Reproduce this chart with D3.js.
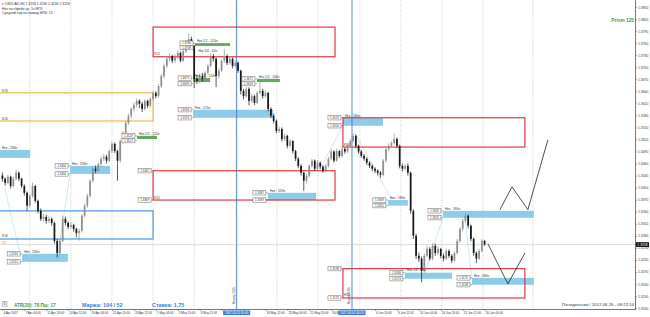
<!DOCTYPE html>
<html>
<head>
<meta charset="utf-8">
<script src="https://cdn.jsdelivr.net/npm/d3@7"></script>
<style>
  body { margin: 0; background: #fff; }
  svg { display: block; font-family: "Liberation Sans", Arial, sans-serif; }
</style>
</head>
<body>
<svg id="chart" width="650" height="317"></svg>
<script>
// USDCAD, drawn as 8-hour bars. All prices are pips above 1.3000
const opens = [430,422,412,427,404,422,437,422,404,387, 355,379,404,367,342,322,327,317,322,312,
  267,237,267,322,312,302,307,297,287,292, 330,355,379,417,447,442,459,472,477,467,
  491,509,491,467,516,536,561,579,596,606, 616,609,596,616,604,621,636,628,653,678,
  703,721,728,716,726,736,716,740,760,770, 753,671,666,678,671,686,703,728,721,678,
  691,716,728,711,721,703,711,691,641,628, 646,616,628,611,636,641,628,636,596,579,
  566,541,546,521,529,504,516,491,472,454, 437,417,429,454,467,447,462,452,442,454,
  472,490,467,491,479,496,490,504,516,529, 504,490,479,472,462,454,447,442,437,432,
  467,496,504,511,521,504,454,447,454,437, 342,280,230,223,193,230,247,223,255,237,
  247,230,223,242,230,218,237,267,297,317, 330,305,272,237,223,242,267];
const highs = [438,426,432,430,428,444,440,425,408,390, 384,412,407,370,348,335,332,328,326,315,
  272,270,330,328,316,314,310,300,298,334, 360,385,421,452,455,463,478,484,482,495,
  515,513,494,520,541,566,585,600,612,622, 620,613,620,619,626,641,640,658,683,708,
  727,735,731,732,742,739,745,767,783,776, 756,680,684,686,691,708,734,733,724,697,
  720,746,732,727,724,717,714,694,646,650, 650,634,632,640,666,646,642,638,600,584,
  570,552,550,534,532,521,518,494,476,458, 440,434,458,472,470,468,465,456,459,477,
  495,493,497,494,502,500,509,521,536,532, 507,494,484,476,466,458,451,446,441,471,
  500,510,516,534,525,507,460,459,461,440, 346,285,238,228,236,255,252,262,260,254,
  250,236,248,246,234,242,272,302,322,336, 333,308,276,241,247,272,270];
const lows = [415,405,408,398,400,418,416,399,380,342, 350,375,362,336,317,315,310,312,305,260,
  226,233,264,306,296,298,290,276,268,288, 326,350,375,412,436,438,454,466,460,463,
  486,486,417,462,510,532,556,572,590,600, 598,588,592,598,600,617,622,624,648,672,
  698,715,710,711,720,712,713,735,755,745, 648,658,660,664,667,682,700,714,650,672,
  688,711,705,706,697,699,686,632,620,624, 605,610,606,608,632,622,624,590,573,560,
  535,536,515,516,498,500,485,466,448,430, 392,410,425,450,442,444,446,437,438,450,
  468,462,464,474,475,484,486,500,512,498, 484,474,467,456,449,441,436,430,424,428,
  462,490,500,506,498,448,440,442,430,335, 272,222,215,164,188,226,218,219,230,232,
  224,216,219,225,212,214,233,262,292,312, 298,266,230,212,219,238,255];
const closes = [422,412,427,404,422,437,422,404,387,355, 379,404,367,342,322,327,317,322,312,267,
  237,267,322,312,302,307,297,287,292,330, 355,379,417,447,442,459,472,477,467,491,
  509,491,467,516,536,561,579,596,606,616, 609,596,616,604,621,636,628,653,678,703,
  721,728,716,726,736,716,740,760,770,753, 671,666,678,671,686,703,728,721,678,691,
  716,728,711,721,703,711,691,641,628,646, 616,628,611,636,641,628,636,596,579,566,
  541,546,521,529,504,516,491,472,454,437, 417,429,454,467,447,462,452,442,454,472,
  490,467,491,479,496,490,504,516,529,504, 490,479,472,462,454,447,442,437,432,467,
  496,504,511,521,504,454,447,454,437,342, 280,230,223,193,230,247,223,255,237,247,
  230,223,242,230,218,237,267,297,317,330, 305,272,237,223,242,267,258];

const timeLabels = ["4 Apr 2017","7 Apr 04:00","11 Apr 20:00","14 Apr 12:00","19 Apr 04:00",
  "21 Apr 20:00","26 Apr 12:00","1 May 04:00","3 May 20:00","8 May 12:00","11 May 04:00",
  "15 May 20:00","18 May 12:00","23 May 04:00","25 May 20:00","30 May 12:00","2 Jun 04:00",
  "6 Jun 20:00","9 Jun 12:00","14 Jun 04:00","16 Jun 20:00","21 Jun 12:00","26 Jun 04:00"];
const labelBars = [0,8,16,24,32,40,48,56,64,72,80,88,96,104,112,120,128,136,144,152,160,168,176];
const gridBars = [10,25,40,55,70,85.3,100.2,115.2,130.5,145.5,160.4,175.4,193.6];
const priceTicks = [850,820,790,760,730,700,670,640,610,580,550,520,490,460,430,400,370,340,310,280,250,220,190,160,130,100];
const bidPips = 258;

// [startBar, endBar, topPips, bottomPips, label, withPriceTags]
const redZones = [
  [55, 121.4, 800, 726, "K15", false],
  [55, 121.4, 442, 369, "K15", true],
  [124.3, 190.7, 574, 501, "K15", false],
  [124.3, 190.7, 198, 125, "H18", true]
];
const orangeZone = [-5, 55, 636, 566, "K16"];
const blueFrame = [-5, 55, 342, 272, "K16"];
const blueBands = [
  [-5, 10.1, 494, 474, "Нкз - 236п.", false],
  [24.7, 39.3, 454, 434, "Нкз - 236п.", true],
  [7.2, 23.9, 235, 215, "Нкз - 235п.", true],
  [69.6, 98.8, 594, 574, "Нкз - 215п.", true],
  [96.9, 114.5, 387, 369, "Нкз - 209п.", true],
  [140.7, 148, 369, 355, "Нкз - 180п.", true],
  [124.3, 138.9, 574, 554, "Нкз - 180п.", true],
  [160.8, 194, 342, 325, "Нкз - 180п.", true],
  [171.4, 194, 175, 158, "Нкз - 180п.", true],
  [146.9, 164.1, 188, 173, "Нкз 1/4 - 90п.", true]
];
const greenBands = [
  [70.3, 83.1, 760, 753, "Нкз 1/2 - 124п."],
  [69.6, 75.8, 673, 663, "Нкз 1/2 - 124п."],
  [92.9, 101.3, 671, 663, "Нкз 1/2 - 106п."],
  [49.1, 56.4, 529, 521, "Нкз 1/2 - 122п."]
];
const notes = [[70.8, 737, "Нкз 1/4 - 62п."]];
const guideLines = [
  [[0.9, 399], [6.4, 235]],
  [[24.7, 434], [20.3, 233]],
  [[115.9, 447], [124.3, 554]],
  [[128.7, 536], [142.2, 369]],
  [[160.8, 325], [154.2, 188]],
  [[171.4, 173], [168.8, 325]]
];
const forecastUp = [[181.6, 345], [186, 402], [191.8, 345], [199.1, 519]];
const forecastDown = [[177.2, 260], [184.5, 160], [190.7, 237]];
const markerBars = [85.5, 127.6];
const markerTimes = ["2017.05.15 00:00", "2017.06.02 00:00"];
const markerNames = ["Маркер 1505", "Маркер 0206"];

const plotRight = 635, plotBottom = 309;
const svg = d3.select("#chart");
const x = d3.scaleLinear().domain([0, 176]).range([2.4, 484.6]);
const y = d3.scaleLinear().domain([100, 850]).range([308, 7]);
const fmt = p => (1.3 + p / 10000).toFixed(4);

svg.append("rect").attr("width", 650).attr("height", 317).attr("fill", "#fff");
svg.append("clipPath").attr("id", "clip").append("rect")
  .attr("width", plotRight).attr("height", plotBottom);
const g = svg.append("g").attr("clip-path", "url(#clip)");

// grid
g.append("g").selectAll("line").data(gridBars).join("line")
  .attr("x1", d => x(d)).attr("x2", d => x(d)).attr("y1", 0).attr("y2", plotBottom)
  .attr("stroke", "#a8a8a8").attr("stroke-width", 0.6).attr("stroke-dasharray", "1,1.5");

// filled bands
const bands = g.append("g");
bands.selectAll("rect.b").data(blueBands).join("rect").attr("class", "b")
  .attr("x", d => x(d[0])).attr("width", d => x(d[1]) - x(d[0]))
  .attr("y", d => y(d[2])).attr("height", d => y(d[3]) - y(d[2]))
  .attr("fill", "#8ccbea");
bands.selectAll("rect.gr").data(greenBands).join("rect").attr("class", "gr")
  .attr("x", d => x(d[0])).attr("width", d => x(d[1]) - x(d[0]))
  .attr("y", d => y(d[2])).attr("height", d => Math.max(1.5, y(d[3]) - y(d[2])))
  .attr("fill", "#64a860");

// guide lines
g.append("g").selectAll("line").data(guideLines).join("line")
  .attr("x1", d => x(d[0][0])).attr("y1", d => y(d[0][1]))
  .attr("x2", d => x(d[1][0])).attr("y2", d => y(d[1][1]))
  .attr("stroke", "#a9d9f2").attr("stroke-width", 0.6);

// zone frames
function frame(z, color, w) {
  g.append("rect").attr("x", x(z[0])).attr("width", x(z[1]) - x(z[0]))
    .attr("y", y(z[2])).attr("height", y(z[3]) - y(z[2]))
    .attr("fill", "none").attr("stroke", color).attr("stroke-width", w);
}
redZones.forEach(z => frame(z, "#e3262c", 1.1));
frame(orangeZone, "#f5a623", 1);
frame(blueFrame, "#5ea4ea", 1.4);

// marker lines
g.append("g").selectAll("line").data(markerBars).join("line")
  .attr("x1", d => x(d)).attr("x2", d => x(d)).attr("y1", 0).attr("y2", plotBottom)
  .attr("stroke", "#3f7fd0").attr("stroke-width", 0.9);

// bid line
g.append("line").attr("x1", 0).attr("x2", plotRight)
  .attr("y1", y(bidPips)).attr("y2", y(bidPips))
  .attr("stroke", "#c8c8c8").attr("stroke-width", 0.6);

// candles
const bars = closes.map((c, i) => ({ i, o: opens[i], h: highs[i], l: lows[i], c }));
const candleColor = d => d.c >= d.o ? "#8e8e8e" : "#161616";
const cw = 1.7;
const cg = g.append("g");
cg.selectAll("line").data(bars).join("line")
  .attr("x1", d => x(d.i)).attr("x2", d => x(d.i))
  .attr("y1", d => y(d.h)).attr("y2", d => y(d.l))
  .attr("stroke", candleColor).attr("stroke-width", 0.7);
cg.selectAll("rect").data(bars).join("rect")
  .attr("x", d => x(d.i) - cw / 2).attr("width", cw)
  .attr("y", d => y(Math.max(d.o, d.c)))
  .attr("height", d => Math.max(0.6, Math.abs(y(d.o) - y(d.c))))
  .attr("fill", candleColor);

// forecast zigzags
const line = d3.line().x(d => x(d[0])).y(d => y(d[1]));
[forecastUp, forecastDown].forEach(pts => {
  g.append("path").attr("d", line(pts)).attr("fill", "none")
    .attr("stroke", "#222").attr("stroke-width", 0.8);
});

// texts on the zones
const tx = g.append("g").attr("fill", "#333").attr("font-size", 3.2);
blueBands.concat(greenBands).forEach(d => {
  tx.append("text").attr("x", Math.max(x(d[0]), 0) + 2).attr("y", y(d[2]) - 1.2).text(d[4]);
});
notes.forEach(d => tx.append("text").attr("x", x(d[0]) + 2).attr("y", y(d[1])).text(d[2]));
redZones.forEach(d => {
  tx.append("text").attr("x", x(d[0]) + 1).attr("y", y(d[3]) - 1.5).text(d[4]);
});
tx.append("text").attr("x", 2).attr("y", y(orangeZone[2]) - 1).text(orangeZone[4]);
tx.append("text").attr("x", 2).attr("y", y(orangeZone[3]) - 1).text(orangeZone[4]);
tx.append("text").attr("x", 2).attr("y", y(blueFrame[3]) - 1.5).text(blueFrame[4]);
tx.append("text").attr("x", 2).attr("y", y(blueFrame[3]) + 5).attr("fill", "#f08a3c").text("3/0");

// price tags left of zones
const tags = svg.append("g");
function priceTag(xr, p) {
  const yy = y(p);
  tags.append("rect").attr("x", xr - 15).attr("y", yy - 2.2).attr("width", 13).attr("height", 4.4)
    .attr("fill", "#fff").attr("stroke", "#666").attr("stroke-width", 0.5);
  tags.append("line").attr("x1", xr - 2).attr("x2", xr).attr("y1", yy).attr("y2", yy)
    .attr("stroke", "#666").attr("stroke-width", 0.5);
  tags.append("text").attr("x", xr - 8.5).attr("y", yy + 1).attr("text-anchor", "middle")
    .attr("font-size", 2.9).attr("fill", "#333").text(fmt(p));
}
blueBands.concat(redZones).filter(d => d[5]).forEach(d => {
  priceTag(x(d[0]), d[2]);
  priceTag(x(d[0]), d[3]);
});
greenBands.forEach(d => {
  priceTag(x(d[0]), d[2]);
  priceTag(x(d[0]), d[3] - 4);
});

// marker names (rotated)
markerBars.forEach((b, i) => {
  svg.append("text").attr("transform", `translate(${x(b) - 1.5},304) rotate(-90)`)
    .attr("font-size", 2.8).attr("fill", "#555").text(markerNames[i]);
});

// price axis
const yAxis = svg.append("g").attr("transform", `translate(${plotRight},0)`)
  .call(d3.axisRight(y).tickValues(priceTicks).tickSize(2).tickFormat(fmt));
yAxis.select(".domain").remove();
yAxis.attr("font-size", 3.4).attr("font-family", null);
yAxis.selectAll("line").attr("stroke", "#555").attr("stroke-width", 0.5);
yAxis.selectAll("text").attr("x", 3).attr("fill", "#333");
svg.append("line").attr("x1", plotRight + 0.5).attr("x2", plotRight + 0.5)
  .attr("y1", 0).attr("y2", plotBottom).attr("stroke", "#555").attr("stroke-width", 0.8);

// bid tag
svg.append("rect").attr("x", plotRight + 1).attr("y", y(bidPips) - 2.4).attr("width", 13).attr("height", 4.8)
  .attr("fill", "#111");
svg.append("text").attr("x", plotRight + 7.5).attr("y", y(bidPips) + 1.2).attr("text-anchor", "middle")
  .attr("font-size", 3.4).attr("fill", "#fff").text(fmt(bidPips));
svg.append("text").attr("x", plotRight - 3).attr("y", y(bidPips) - 0.5).attr("font-size", 3.5)
  .attr("fill", "#f08a3c").text("›");

// time axis; labels that sit under a marker's time box are hidden, as in the terminal
const boxHalf = 13.5;
const hidden = d => markerBars.some(b => Math.abs(x(d) - x(b)) < boxHalf + 2);
const xAxis = svg.append("g").attr("transform", `translate(0,${plotBottom})`)
  .call(d3.axisBottom(x).tickValues(labelBars).tickSize(2)
    .tickFormat((d, i) => hidden(d) ? "" : timeLabels[i]));
xAxis.select(".domain").remove();
xAxis.attr("font-size", 3).attr("font-family", null);
xAxis.selectAll("line").attr("stroke", "#555").attr("stroke-width", 0.5);
xAxis.selectAll("text").attr("text-anchor", "start").attr("x", 0.6).attr("y", 3).attr("fill", "#333");
svg.append("line").attr("x1", 0).attr("x2", plotRight + 1)
  .attr("y1", plotBottom + 0.5).attr("y2", plotBottom + 0.5).attr("stroke", "#555").attr("stroke-width", 0.8);

markerBars.forEach((b, i) => {
  svg.append("rect").attr("x", x(b) - boxHalf).attr("y", plotBottom + 1.5).attr("width", boxHalf * 2).attr("height", 4.6)
    .attr("fill", "#3a7fd6");
  svg.append("text").attr("x", x(b)).attr("y", plotBottom + 5).attr("text-anchor", "middle")
    .attr("font-size", 3).attr("fill", "#fff").text(markerTimes[i]);
});

// header and status texts
const hdr = svg.append("g").attr("fill", "#333").attr("font-size", 3.4);
hdr.append("text").attr("x", 2).attr("y", 5).text("▾ USDCAD,H4  1.3258 1.3260 1.3256 1.3258");
hdr.append("text").attr("x", 2).attr("y", 9.5).text("Нкз тест/фейк-нр: 1ч  МП5");
hdr.append("text").attr("x", 2).attr("y", 14).text("Средний ход за период МП6: 15");

svg.append("text").attr("x", 634).attr("y", 21.5).attr("text-anchor", "end")
  .attr("font-size", 4.8).attr("font-weight", "bold").attr("fill", "#3c9a50").text("Prism 125");

svg.append("rect").attr("x", 2).attr("y", 301.5).attr("width", 5).attr("height", 5)
  .attr("fill", "#f4f4f4").attr("stroke", "#888").attr("stroke-width", 0.5);
svg.append("text").attr("x", 4.5).attr("y", 305.4).attr("text-anchor", "middle")
  .attr("font-size", 3.4).attr("fill", "#555").text("$");
svg.append("text").attr("x", 14).attr("y", 307).attr("font-size", 4.6).attr("font-weight", "bold")
  .attr("fill", "#3c9a50").text("ATR(20): 78  Пш: 17");
svg.append("text").attr("x", 82).attr("y", 307).attr("font-size", 5.4).attr("font-weight", "bold")
  .attr("fill", "#2f7fe0").text("Маржа: 104 / 52");
svg.append("text").attr("x", 152).attr("y", 307).attr("font-size", 5.4).attr("font-weight", "bold")
  .attr("fill", "#2f7fe0").text("Ставка: 1.75");
svg.append("text").attr("x", 634).attr("y", 306).attr("text-anchor", "end")
  .attr("font-size", 4.3).attr("fill", "#333").text("Понедельник / 2017.06.26 - 08:22:14");
</script>
</body>
</html>
